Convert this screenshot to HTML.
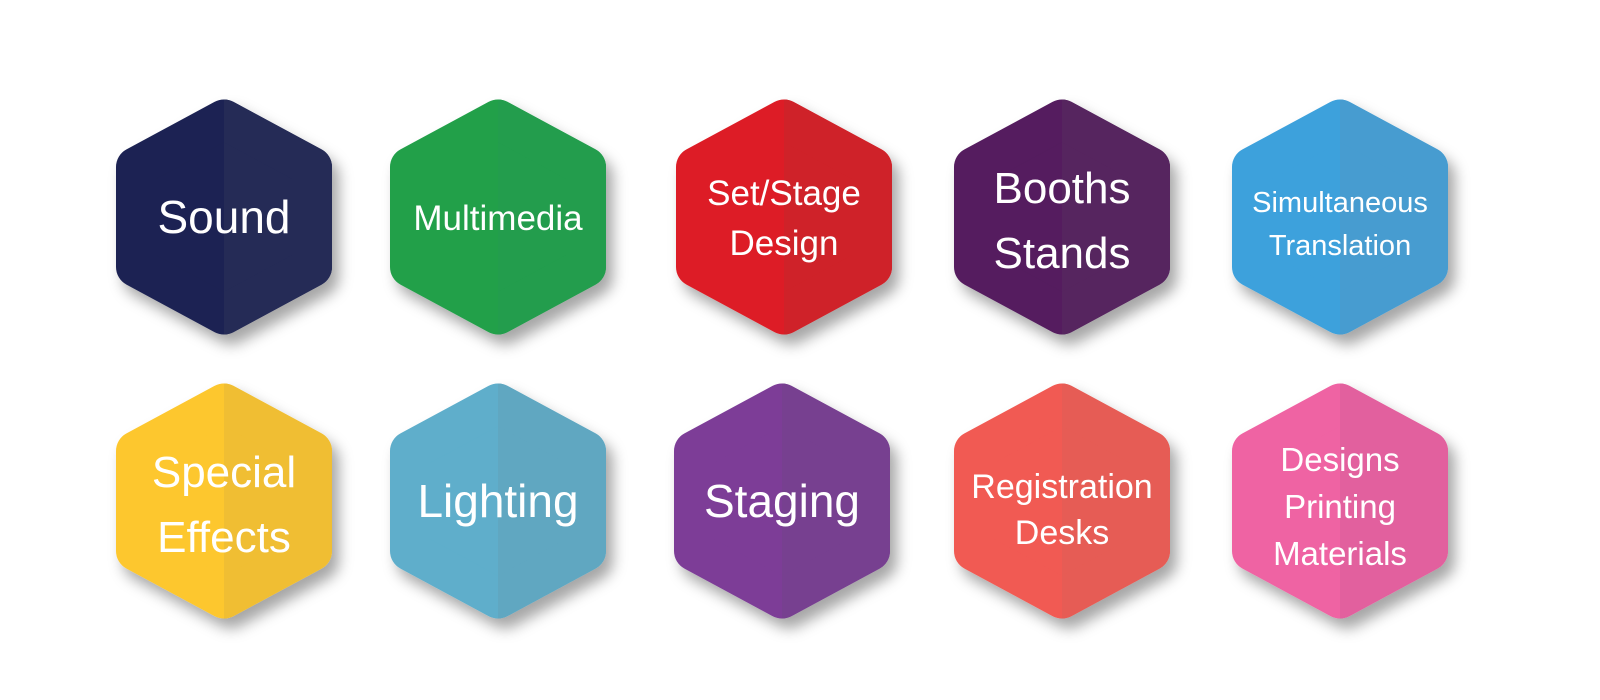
<!DOCTYPE html>
<html><head><meta charset="utf-8"><style>html,body{margin:0;padding:0;background:#fff}svg{display:block}text{font-family:"Liberation Sans",sans-serif;fill:#fff;text-anchor:middle}</style></head>
<body>
<svg width="1600" height="700" viewBox="0 0 1600 700" xmlns="http://www.w3.org/2000/svg">
<defs>
<path id="h" d="M0,-97.5 L88,-50 L88,50 L0,97.5 L-88,50 L-88,-50 Z" stroke-width="40" stroke-linejoin="round"/>
<clipPath id="r"><rect x="0" y="-140" width="140" height="280"/></clipPath>
<filter id="s" x="-30%" y="-30%" width="160%" height="160%"><feDropShadow dx="7" dy="10" stdDeviation="7" flood-color="#000" flood-opacity="0.35"/></filter>
</defs>

<g transform="translate(224,217)"><use href="#h" fill="#1c2352" stroke="#1c2352" filter="url(#s)"/><use href="#h" fill="#252b56" stroke="#252b56" clip-path="url(#r)"/><text y="16" font-size="46">Sound</text></g>
<g transform="translate(498,217)"><use href="#h" fill="#21a04a" stroke="#21a04a" filter="url(#s)"/><use href="#h" fill="#239d4d" stroke="#239d4d" clip-path="url(#r)"/><text y="13" font-size="35">Multimedia</text></g>
<g transform="translate(784,217)"><use href="#h" fill="#dd1f26" stroke="#dd1f26" filter="url(#s)"/><use href="#h" fill="#cf2229" stroke="#cf2229" clip-path="url(#r)"/><text y="-12" font-size="35">Set/Stage</text><text y="38" font-size="35">Design</text></g>
<g transform="translate(1062,217)"><use href="#h" fill="#541c5e" stroke="#541c5e" filter="url(#s)"/><use href="#h" fill="#56255f" stroke="#56255f" clip-path="url(#r)"/><text y="-14" font-size="44">Booths</text><text y="51" font-size="44">Stands</text></g>
<g transform="translate(1340,217)"><use href="#h" fill="#3ea1dc" stroke="#3ea1dc" filter="url(#s)"/><use href="#h" fill="#479cd0" stroke="#479cd0" clip-path="url(#r)"/><text y="-5" font-size="29">Simultaneous</text><text y="38" font-size="29">Translation</text></g>

<g transform="translate(224,501)"><use href="#h" fill="#fdc72f" stroke="#fdc72f" filter="url(#s)"/><use href="#h" fill="#f0be33" stroke="#f0be33" clip-path="url(#r)"/><text y="-14" font-size="44">Special</text><text y="51" font-size="44">Effects</text></g>
<g transform="translate(498,501)"><use href="#h" fill="#5eaecb" stroke="#5eaecb" filter="url(#s)"/><use href="#h" fill="#60a7c1" stroke="#60a7c1" clip-path="url(#r)"/><text y="16" font-size="46">Lighting</text></g>
<g transform="translate(782,501)"><use href="#h" fill="#7d3e97" stroke="#7d3e97" filter="url(#s)"/><use href="#h" fill="#774090" stroke="#774090" clip-path="url(#r)"/><text y="16" font-size="46">Staging</text></g>
<g transform="translate(1062,501)"><use href="#h" fill="#f15a53" stroke="#f15a53" filter="url(#s)"/><use href="#h" fill="#e65c55" stroke="#e65c55" clip-path="url(#r)"/><text y="-3" font-size="34">Registration</text><text y="43" font-size="34">Desks</text></g>
<g transform="translate(1340,501)"><use href="#h" fill="#ef63a3" stroke="#ef63a3" filter="url(#s)"/><use href="#h" fill="#e2609e" stroke="#e2609e" clip-path="url(#r)"/><text y="-30" font-size="33">Designs</text><text y="17" font-size="33">Printing</text><text y="64" font-size="33">Materials</text></g>
</svg>
</body></html>
